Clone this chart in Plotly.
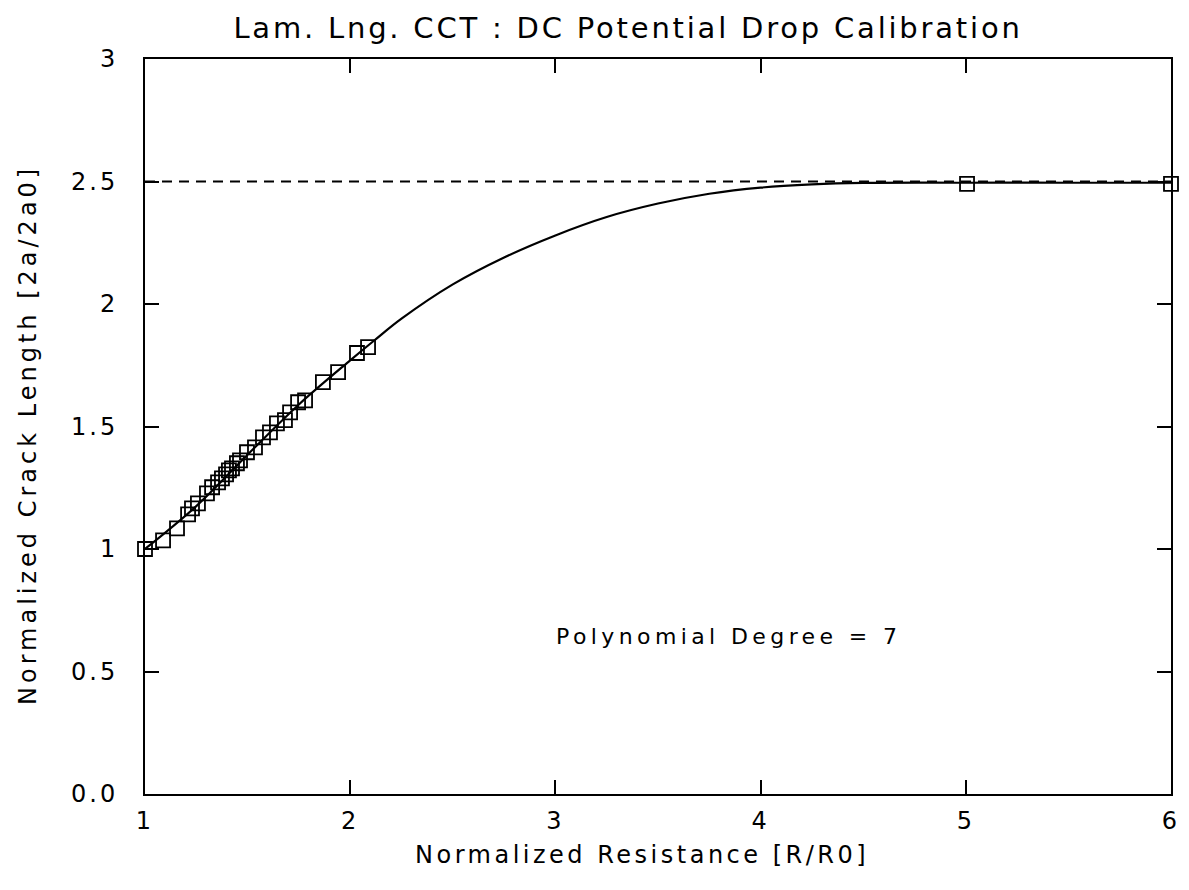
import plotly.graph_objects as go

# Measured calibration points (Normalized Resistance, Normalized Crack Length)
data_x = [1.00, 1.088, 1.156, 1.21, 1.229, 1.258, 1.302, 1.327, 1.356, 1.375, 1.395, 1.409,
          1.424, 1.448, 1.463, 1.497, 1.536, 1.575, 1.609, 1.643, 1.682, 1.707, 1.746, 1.78,
          1.867, 1.941, 2.033, 2.087, 5.006, 6.0]
data_y = [1.00, 1.035, 1.084, 1.141, 1.166, 1.186, 1.227, 1.252, 1.272, 1.288, 1.305, 1.321,
          1.329, 1.350, 1.362, 1.395, 1.415, 1.456, 1.476, 1.513, 1.526, 1.558, 1.599, 1.607,
          1.681, 1.722, 1.800, 1.824, 2.49, 2.49]

# Polynomial fit curve (degree 7)
fit_x = [1.0, 1.25, 1.5, 1.75, 2.0, 2.12, 2.25, 2.5, 2.75, 3.0, 3.25, 3.5, 3.75, 4.0,
         4.25, 4.5, 5.0, 5.5, 6.0]
fit_y = [1.0, 1.175, 1.385, 1.59, 1.77, 1.853, 1.94, 2.08, 2.19, 2.28, 2.355, 2.41, 2.45,
         2.475, 2.488, 2.494, 2.495, 2.495, 2.495]

# Asymptote
limit_x = [1.0, 6.0]
limit_y = [2.5, 2.5]

x_ticks = [1, 2, 3, 4, 5, 6]
x_ticktext = ["1", "2", "3", "4", "5", "6"]
y_ticks = [0, 0.5, 1, 1.5, 2, 2.5, 3]
y_ticktext = ["0.0", "0.5", "1", "1.5", "2", "2.5", "3"]

FONT = "DejaVu Sans"
OFF = 8  # page body margin
PL, PR, PT, PB = 145 - OFF, 1171 - OFF, 59 - OFF, 794 - OFF  # plot area in figure pixels
PW, PH = PR - PL, PB - PT


def spaced(t, px):
    return f"<span style='letter-spacing:{px}px'>{t}</span>"


fig = go.Figure()
fig.add_trace(go.Scatter(x=limit_x, y=limit_y, mode="lines",
                         line=dict(color="black", width=1.8, dash="10px,7px"),
                         showlegend=False, hoverinfo="skip"))
fig.add_trace(go.Scatter(x=fit_x, y=fit_y, mode="lines", line_shape="spline",
                         line=dict(color="black", width=2.2), showlegend=False))
fig.add_trace(go.Scatter(x=data_x, y=data_y, mode="markers", cliponaxis=False,
                         marker=dict(symbol="square-open", size=14, color="black",
                                     line=dict(width=1.8, color="black")),
                         showlegend=False))

axis_common = dict(showline=True, linecolor="black", linewidth=2, mirror="ticks",
                   ticks="inside", ticklen=14, tickwidth=1.6, tickcolor="black",
                   showgrid=False, zeroline=False,
                   tickfont=dict(family=FONT, size=24, color="black"))

fig.update_xaxes(range=[1, 6], tickvals=x_ticks,
                 ticktext=[spaced(t, 3) for t in x_ticktext],
                 ticklabelstandoff=4, **axis_common)
fig.update_yaxes(range=[0, 3], tickvals=y_ticks,
                 ticktext=[spaced(t, 3) for t in y_ticktext],
                 ticklabelstandoff=20, **axis_common)

fig.update_layout(
    width=1189, height=890,
    margin=dict(l=PL, r=1189 - PR, t=PT, b=890 - PB),
    plot_bgcolor="white", paper_bgcolor="white",
    font=dict(family=FONT, color="black"),
    title=dict(text=spaced("Lam. Lng. CCT : DC Potential Drop Calibration", 2.8),
               x=(628 - OFF - PL) / PW, xref="paper", xanchor="center",
               y=1 - (28 - OFF) / 890, yref="container", yanchor="middle",
               font=dict(family=FONT, size=29, color="black")),
    annotations=[
        dict(text=spaced("Polynomial Degree = 7", 4.4), x=3.846, y=0.641, xref="x", yref="y",
             showarrow=False, font=dict(family=FONT, size=22, color="black")),
        dict(text=spaced("Normalized Resistance [R/R0]", 3.5), x=(642 - OFF - PL) / PW,
             y=(PB - (855 - OFF)) / PH,
             xref="paper", yref="paper", xanchor="center", yanchor="middle",
             showarrow=False, font=dict(family=FONT, size=24, color="black")),
        dict(text=spaced("Normalized Crack Length [2a/2a0]", 4.0), x=(28 - OFF - PL) / PW,
             y=(PB - (435 - OFF)) / PH,
             xref="paper", yref="paper", xanchor="center", yanchor="middle",
             textangle=-90, showarrow=False,
             font=dict(family=FONT, size=24, color="black")),
    ],
)

fig.write_html("out.html")
